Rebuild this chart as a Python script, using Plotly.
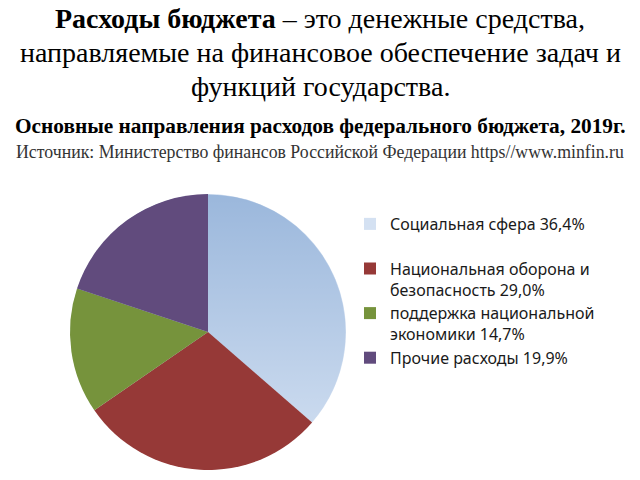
import base64
import plotly.graph_objects as go

labels = [
    "Социальная сфера 36,4%<br> ",
    "Национальная оборона и<br>безопасность 29,0%",
    "поддержка национальной<br>экономики 14,7%",
    "Прочие расходы 19,9%",
]
values = [36.4, 29.0, 14.7, 19.9]
colors = ["rgba(170,195,230,0.5)", "#963937", "#76933c", "#614b7d"]

title_lines = [
    "<b>Расходы бюджета</b> – это денежные средства,",
    "направляемые на финансовое обеспечение задач и",
    "функций государства.",
]
subtitle = "<b>Основные направления расходов федерального бюджета, 2019г.</b>"
source = "Источник: Министерство финансов Российской Федерации https//www.minfin.ru"

serif = "Liberation Serif, Times New Roman, serif"

# pie placement (paper fractions)
dx0, dx1 = 70 / 640, 346 / 640
dy0, dy1 = 10 / 480, 286 / 480

fig = go.Figure(
    go.Pie(
        labels=labels,
        values=values,
        sort=False,
        direction="clockwise",
        rotation=0,
        marker=dict(colors=colors, line=dict(width=0)),
        textinfo="none",
        domain=dict(x=[dx0, dx1], y=[dy0, dy1]),
    )
)

# soft vertical gradient under the pie (shows through the light first slice)
svg = (
    "<svg xmlns='http://www.w3.org/2000/svg' width='276' height='276'>"
    "<defs><linearGradient id='g' x1='0' y1='0' x2='0' y2='1'>"
    "<stop offset='0' stop-color='#8cabd2'/>"
    "<stop offset='1' stop-color='#ffffff'/>"
    "</linearGradient></defs>"
    "<circle cx='138' cy='138' r='137.6' fill='url(#g)'/></svg>"
)
uri = "data:image/svg+xml;base64," + base64.b64encode(svg.encode()).decode()
fig.add_layout_image(dict(
    source=uri, xref="paper", yref="paper", x=dx0, y=dy1,
    sizex=dx1 - dx0, sizey=dy1 - dy0, xanchor="left", yanchor="top",
    sizing="stretch", layer="below",
))

annotations = []
for i, line in enumerate(title_lines):
    annotations.append(dict(
        text=line, x=0.5, y=1 - (19 + 33.5 * i) / 480, xref="paper", yref="paper",
        xanchor="center", yanchor="middle", showarrow=False,
        font=dict(family=serif, size=28, color="#000000"),
    ))
annotations.append(dict(
    text=subtitle, x=0.5, y=1 - 126 / 480, xref="paper", yref="paper",
    xanchor="center", yanchor="middle", showarrow=False,
    font=dict(family=serif, size=21.3, color="#000000"),
))
annotations.append(dict(
    text=source, x=0.5, y=1 - 152 / 480, xref="paper", yref="paper",
    xanchor="center", yanchor="middle", showarrow=False,
    font=dict(family=serif, size=17.8, color="#333333"),
))

fig.update_layout(
    width=640, height=480,
    margin=dict(l=0, r=0, t=0, b=0),
    paper_bgcolor="white", plot_bgcolor="white",
    annotations=annotations,
    showlegend=True,
    legend=dict(
        x=350 / 640, y=1 - 207 / 480, xanchor="left", yanchor="top",
        valign="top",
        font=dict(family="Noto Sans, Lato, sans-serif", size=16, color="#1a1a1a"),
        bgcolor="rgba(0,0,0,0)",
    ),
)

fig.write_html("out.html")
